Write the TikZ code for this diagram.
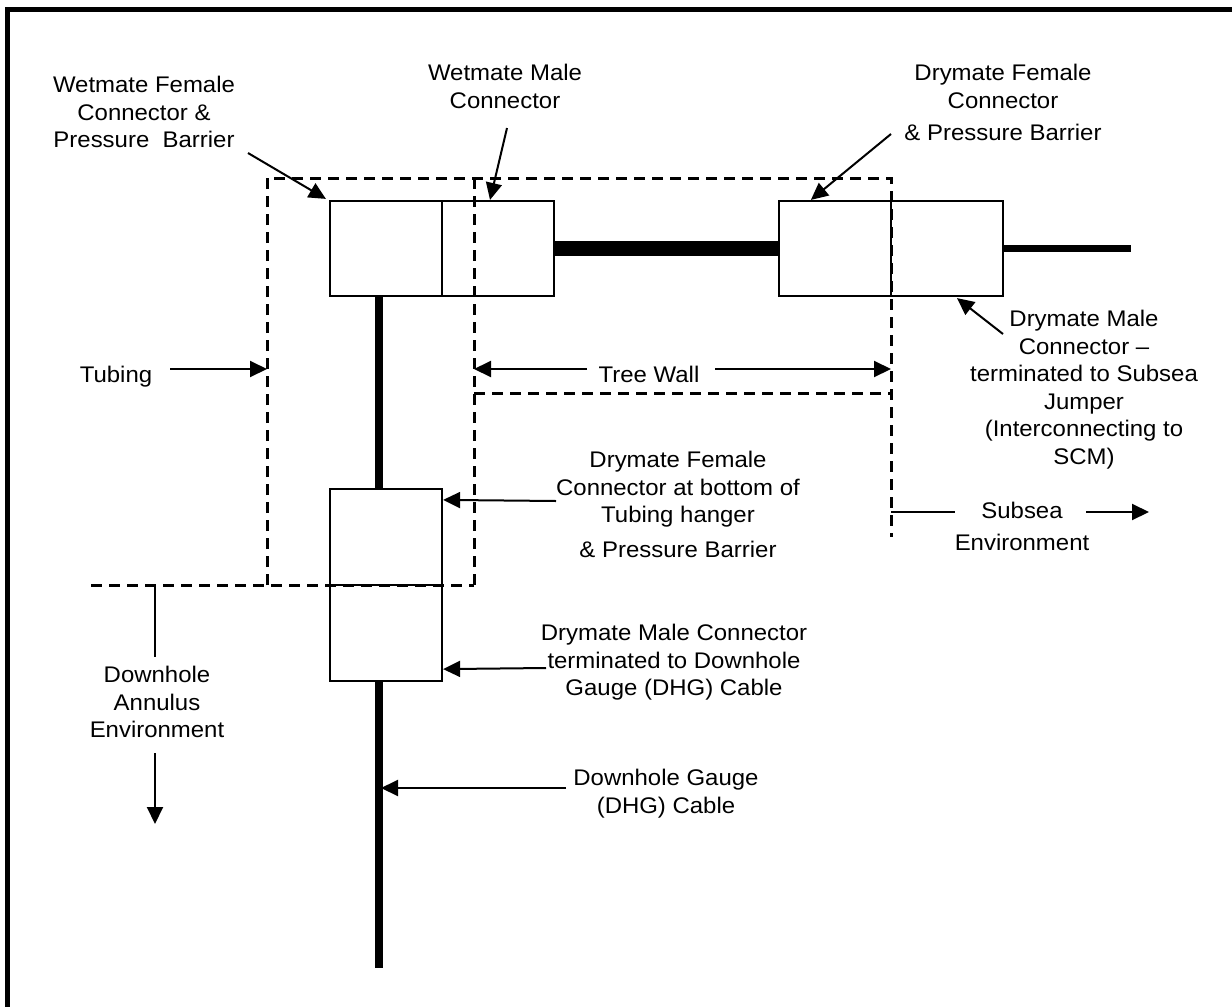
\documentclass[tikz,border=0pt]{standalone}
\usepackage{fontspec}
\setmainfont{Liberation Sans}[FakeStretch=1.06]
\usetikzlibrary{arrows.meta,calc}
\begin{document}
\begin{tikzpicture}[x=0.5pt,y=-0.5pt,
  lbl/.style={font=\fontsize{11.3}{13.75}\selectfont, align=center, inner sep=0pt, anchor=north},
  conn/.style={draw, line width=1.1pt, inner sep=0pt, minimum width=56pt, minimum height=47.5pt},
  arr/.style={line width=1pt, -{Triangle[length=8.5pt,width=8pt]}},
  ln/.style={line width=1pt},
  bnd/.style={line width=1.5pt, dash pattern=on 5.5pt off 3.5pt},
  cable/.style={line width=4pt},
  bigcable/.style={line width=7.5pt}]
\useasboundingbox (0,0) rectangle (1232,1007);
% frame
\draw[line width=2.5pt] (7.5,1007) -- (7.5,9.7) -- (1232,9.7);

% boundaries (dashed)
\draw[bnd] (267,585) -- (267,178) -- (891,178) -- (891,537);
\draw[bnd] (474,178) -- (474,585);
\draw[bnd] (474,393) -- (891,393);
\draw[bnd] (91,585) -- (474,585);

% connectors (boxes)
\node[conn] (wf) at (386,248.5) {};
\node[conn] (wm) at (498,248.5) {};
\node[conn] (df) at (835,248.5) {};
\node[conn] (dm) at (947,248.5) {};
\node[conn, minimum height=48pt] (lf) at (386,537) {};
\node[conn, minimum height=48pt] (lm) at (386,633) {};

% cables
\coordinate (cEnd) at (1131,248.5);
\coordinate (cBot) at (379,968);
\draw[bigcable] (wm.east) -- (df.west);
\draw[line width=3.5pt] (dm.east) -- (cEnd);
\draw[cable] ([xshift=-3.5pt]wf.south) -- ([xshift=-3.5pt]lf.north);
\draw[cable] ([xshift=-3.5pt]lm.south) -- (cBot);

% labels
\node[lbl] (lwf) at (144,76) {Wetmate Female\\Connector \&\\Pressure\ \ Barrier};
\node[lbl] (lwm) at (505,64) {Wetmate Male\\Connector};
\node[lbl] (ldf) at (1003,64) {Drymate Female\\Connector\\[2.25pt]\& Pressure Barrier};
\node[lbl] (ldm) at (1084,310) {Drymate Male\\Connector –\\terminated to Subsea\\Jumper\\(Interconnecting to\\SCM)};
\node[lbl] (ltub) at (116,366) {Tubing};
\node[lbl] (ltw) at (649,366) {Tree Wall};
\node[lbl] (llf) at (678,451) {Drymate Female\\Connector at bottom of\\Tubing hanger\\[3.75pt]\& Pressure Barrier};
\node[lbl] (llm) at (674,624) {Drymate Male Connector\\terminated to Downhole\\Gauge (DHG) Cable};
\node[lbl] (ldhg) at (666,769) {Downhole Gauge\\(DHG) Cable};
\node[lbl] (ldh) at (157,666) {Downhole\\Annulus\\Environment};
\node[lbl] (lss) at (1022,502) {Subsea\\[2.25pt]Environment};

% arrow start points
\coordinate (sWF) at (248,153);
\coordinate (sWM) at (507,128);
\coordinate (sDF) at (891,134);
\coordinate (sDM) at (1003,334);
\coordinate (sTub) at (170,369);
\coordinate (eTub) at (267,369);
\coordinate (sTwA) at (587,369);
\coordinate (eTwA) at (474,369);
\coordinate (sTwB) at (715,369);
\coordinate (eTwB) at (891,369);
\coordinate (sLF) at (556,501);
\coordinate (sLM) at (546,668);
\coordinate (sDHG) at (566,788);
\coordinate (eDHG) at (381,788);
\coordinate (dhA) at (155,585);
\coordinate (dhB) at (155,657);
\coordinate (dhC) at (155,753);
\coordinate (dhD) at (155,824);
\coordinate (ssA) at (891,512);
\coordinate (ssB) at (955,512);
\coordinate (ssC) at (1086,512);
\coordinate (ssD) at (1149,512);

% arrows
\draw[arr] (sWF) -- ($(wf.north west)+(-3,-1)$);
\draw[arr] (sWM) -- ($(wm.north)+(-8,0)$);
\draw[arr] (sDF) -- ($(df.north west)+(33,0)$);
\draw[arr] (sDM) -- ($(dm.south)+(10,1)$);
\draw[arr] (sTub) -- (eTub);
\draw[arr] (sTwA) -- (eTwA);
\draw[arr] (sTwB) -- (eTwB);
\draw[arr] (sLF) -- ($(lf.north east)+(0,12)$);
\draw[arr] (sLM) -- ($(lm.south east)+(0,-13)$);
\draw[arr] (sDHG) -- (eDHG);
\draw[ln] (dhA) -- (dhB);
\draw[arr] (dhC) -- (dhD);
\draw[ln] (ssA) -- (ssB);
\draw[arr] (ssC) -- (ssD);
\end{tikzpicture}
\end{document}
